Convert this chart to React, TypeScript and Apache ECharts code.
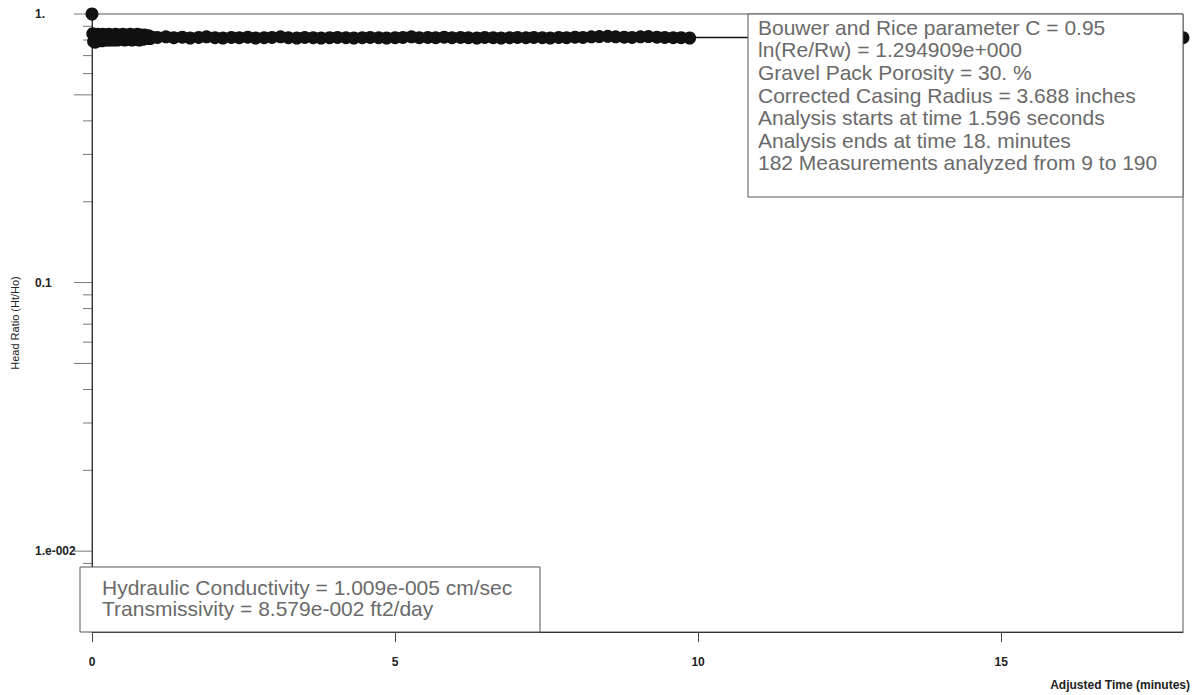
import React, { useEffect, useRef } from "react";
import * as echarts from "echarts";

// Measurements: adjusted time (minutes) and head ratio (Ht/Ho)
const measuredTime = [
  0, 0.0133, 0.0266, 0.04, 0.0533, 0.0667, 0.08, 0.1, 0.12, 0.14, 0.16, 0.18, 0.2, 0.225, 0.25,
  0.275, 0.3, 0.33, 0.36, 0.39, 0.42, 0.45, 0.48, 0.51, 0.54, 0.57, 0.6, 0.63, 0.66, 0.69, 0.72,
  0.75, 0.78, 0.81, 0.84, 0.87, 0.9, 0.93, 0.96, 0.99,
  1.08, 1.22, 1.35, 1.49, 1.62, 1.76, 1.89, 2.03, 2.16, 2.3, 2.43, 2.57, 2.7, 2.84, 2.97, 3.11,
  3.24, 3.38, 3.51, 3.65, 3.78, 3.92, 4.05, 4.19, 4.32, 4.46, 4.59, 4.73, 4.86, 5.0, 5.13, 5.27,
  5.4, 5.54, 5.67, 5.81, 5.94, 6.08, 6.21, 6.35, 6.48, 6.62, 6.75, 6.89, 7.02, 7.16, 7.29, 7.43,
  7.56, 7.7, 7.83, 7.97, 8.1, 8.24, 8.37, 8.51, 8.64, 8.78, 8.91, 9.05, 9.18, 9.32, 9.45, 9.59,
  9.72, 9.86,
];
const measuredRatio = [
  1.0, 0.845, 0.79, 0.835, 0.785, 0.815, 0.795, 0.84, 0.8, 0.83, 0.795, 0.84, 0.8, 0.835, 0.8,
  0.84, 0.8, 0.835, 0.8, 0.84, 0.8, 0.835, 0.805, 0.84, 0.8, 0.835, 0.805, 0.84, 0.8, 0.835, 0.805,
  0.84, 0.8, 0.835, 0.805, 0.835, 0.81, 0.83, 0.81, 0.82,
  0.818, 0.822, 0.816, 0.82, 0.814, 0.818, 0.822, 0.816, 0.814, 0.818, 0.816, 0.82, 0.814, 0.816,
  0.818, 0.822, 0.816, 0.814, 0.818, 0.816, 0.814, 0.816, 0.818, 0.816, 0.814, 0.816, 0.818, 0.816,
  0.814, 0.816, 0.818, 0.822, 0.816, 0.818, 0.816, 0.82, 0.816, 0.818, 0.816, 0.814, 0.818, 0.816,
  0.814, 0.816, 0.818, 0.816, 0.818, 0.816, 0.814, 0.818, 0.816, 0.82, 0.818, 0.822, 0.824, 0.826,
  0.822, 0.82, 0.818, 0.822, 0.824, 0.82, 0.818, 0.816, 0.816, 0.814,
];

// Bouwer and Rice fitted line
const fitTime = [0.0266, 18];
const fitRatio = [0.818, 0.816];

// Axis ticks
const xTickValues = [0, 5, 10, 15];
const yLabelValues = [1, 0.1, 0.01];
const yLabelTexts = ["1.", "0.1", "1.e-002"];
const yLongTicks = [1, 0.5, 0.1, 0.05, 0.01];
const yShortTicks = [
  0.9, 0.8, 0.7, 0.6, 0.4, 0.3, 0.2, 0.09, 0.08, 0.07, 0.06, 0.04, 0.03, 0.02, 0.009, 0.008,
  0.007, 0.006,
];

const infoLines = [
  "Bouwer and Rice parameter C = 0.95",
  "ln(Re/Rw) = 1.294909e+000",
  "Gravel Pack Porosity = 30. %",
  "Corrected Casing Radius = 3.688 inches",
  "Analysis starts at time 1.596 seconds",
  "Analysis ends at time 18. minutes",
  "182 Measurements analyzed from 9 to 190",
];
const resultLines = [
  "Hydraulic Conductivity = 1.009e-005 cm/sec",
  "Transmissivity = 8.579e-002 ft2/day",
];

const FONT = '"Liberation Sans", Arial, sans-serif';

export default function App() {
  const ref = useRef<HTMLDivElement>(null);

  useEffect(() => {
    if (!ref.current) return;
    const chart = echarts.init(ref.current, null, { renderer: "svg" });
    const measured = measuredTime.map((t, i) => [t, measuredRatio[i]]);
    const fit = fitTime.map((t, i) => ({
      value: [t, fitRatio[i]],
      symbol: i === fitTime.length - 1 ? "circle" : "none",
    }));
    const labelFor = (v: number) => {
      for (let i = 0; i < yLabelValues.length; i++) {
        if (Math.abs(Math.log10(v) - Math.log10(yLabelValues[i])) < 1e-6) return yLabelTexts[i];
      }
      return "";
    };

    chart.setOption({
      animation: false,
      backgroundColor: "#ffffff",
      grid: {
        left: 92,
        right: 15,
        top: 14,
        bottom: 63,
        containLabel: false,
        outerBoundsMode: "none",
        show: true,
        borderColor: "#555",
        borderWidth: 1,
        backgroundColor: "transparent",
      },
      xAxis: {
        type: "value",
        min: 0,
        max: 18,
        interval: 5,
        axisLine: { show: true, lineStyle: { color: "#333", width: 1 } },
        axisTick: { show: true, length: 10, customValues: xTickValues, lineStyle: { color: "#444" } },
        axisLabel: {
          customValues: xTickValues,
          margin: 24,
          fontFamily: FONT,
          fontSize: 12,
          fontWeight: "bold",
          color: "#222",
        },
        splitLine: { show: false },
      },
      yAxis: {
        type: "log",
        logBase: 10,
        min: 0.005,
        max: 1,
        name: "Head Ratio (Ht/Ho)",
        nameLocation: "middle",
        nameGap: 72,
        nameTextStyle: { fontFamily: FONT, fontSize: 11, color: "#222" },
        axisLine: { show: true, lineStyle: { color: "#333", width: 1 } },
        axisTick: { show: false },
        axisLabel: {
          formatter: (v: number) => labelFor(v),
          align: "left",
          margin: 57,
          fontFamily: FONT,
          fontSize: 12,
          fontWeight: "bold",
          color: "#222",
        },
        splitLine: { show: false },
      },
      series: [
        {
          name: "Long ticks",
          type: "scatter",
          silent: true,
          clip: false,
          symbol: "rect",
          symbolSize: [18, 1],
          symbolOffset: [-9, 0],
          itemStyle: { color: "#555" },
          data: yLongTicks.map((v) => [0, v]),
          z: 1,
        },
        {
          name: "Short ticks",
          type: "scatter",
          silent: true,
          clip: false,
          symbol: "rect",
          symbolSize: [9, 1],
          symbolOffset: [-4.5, 0],
          itemStyle: { color: "#555" },
          data: yShortTicks.map((v) => [0, v]),
          z: 1,
        },
        {
          name: "Fit",
          type: "line",
          data: fit,
          symbolSize: 13,
          showSymbol: true,
          lineStyle: { color: "#111", width: 1.5 },
          itemStyle: { color: "#111" },
          z: 3,
        },
        {
          name: "Measured",
          type: "scatter",
          data: measured,
          symbol: "circle",
          symbolSize: 13,
          clip: false,
          itemStyle: { color: "#111", opacity: 1 },
          z: 4,
        },
      ],
      graphic: [
        {
          type: "rect",
          z: 100,
          shape: { x: 748, y: 14, width: 435, height: 183 },
          style: { fill: "#fff", stroke: "#555", lineWidth: 1 },
        },
        {
          type: "text",
          z: 101,
          x: 758,
          y: 16,
          style: {
            text: infoLines.join("\n"),
            font: `21px ${FONT}`,
            lineHeight: 22.6,
            fill: "#6a6a6a",
          },
        },
        {
          type: "rect",
          z: 100,
          shape: { x: 80, y: 567, width: 460, height: 65 },
          style: { fill: "#fff", stroke: "#555", lineWidth: 1 },
        },
        {
          type: "text",
          z: 101,
          x: 102,
          y: 577,
          style: {
            text: resultLines.join("\n"),
            font: `21px ${FONT}`,
            lineHeight: 21,
            fill: "#6a6a6a",
          },
        },
        {
          type: "text",
          z: 101,
          x: 1190,
          y: 679,
          style: {
            text: "Adjusted Time (minutes)",
            font: `bold 12px ${FONT}`,
            fill: "#222",
            align: "right",
          },
        },
      ],
    });
    return () => chart.dispose();
  }, []);

  return (
    <div
      ref={ref}
      style={{ position: "absolute", left: 0, top: 0, width: 1198, height: 695 }}
    />
  );
}
